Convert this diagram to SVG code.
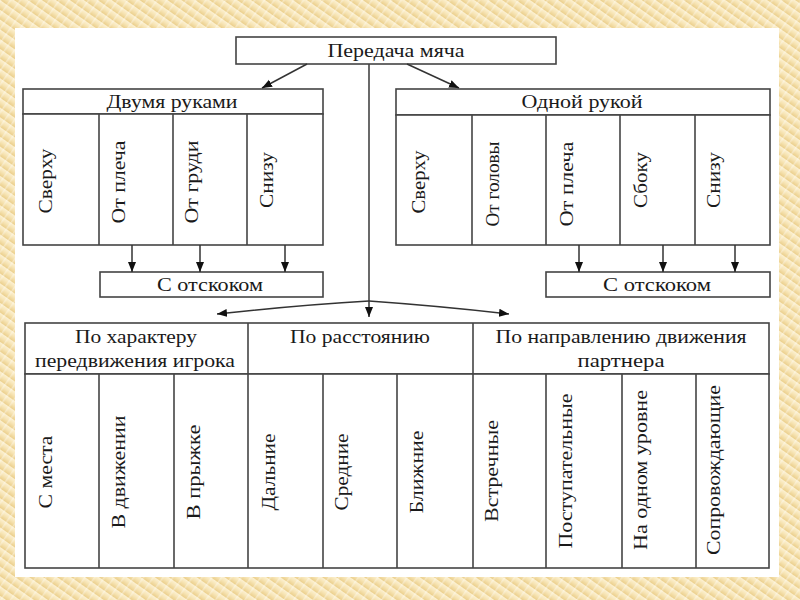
<svg xmlns="http://www.w3.org/2000/svg" width="800" height="600" viewBox="0 0 800 600">
<defs>
<linearGradient id="bg" x1="0" y1="0" x2="0" y2="1">
<stop offset="0" stop-color="#fcf1d4"/>
<stop offset="0.5" stop-color="#f6e3b2"/>
<stop offset="1" stop-color="#ebcf8c"/>
</linearGradient>
<pattern id="stripes" width="8" height="8" patternUnits="userSpaceOnUse" patternTransform="rotate(35)">
<rect width="8" height="8" fill="url(#bg)"/>
<line x1="0" y1="0" x2="0" y2="8" stroke="#ffffff" stroke-opacity="0.35" stroke-width="3"/>
</pattern>
<marker id="ah" markerUnits="userSpaceOnUse" markerWidth="10" markerHeight="10" viewBox="0 0 10 10" refX="10" refY="5" orient="auto">
<path d="M0,1 L10,5 L0,9 Z" fill="#111"/>
</marker>
<style>
.box{fill:#ffffff;stroke:#444;stroke-width:1.6}
.ln{fill:none;stroke:#444;stroke-width:1.6}
.t{font-size:19px;fill:#1a1a1a;text-anchor:middle}
.v{font-size:19px;fill:#1a1a1a;text-anchor:middle;dominant-baseline:middle}
.con{fill:none;stroke:#333;stroke-width:1.5;marker-end:url(#ah)}
</style>
</defs>
<rect x="0" y="0" width="800" height="600" fill="url(#stripes)"/>
<rect x="15" y="28" width="764" height="549" fill="#ffffff"/>

<g font-family="'Liberation Serif', 'DejaVu Serif', serif">
<g id="root">
<rect class="box" x="236" y="37" width="320" height="27"/>
<text class="t" x="396" y="57" textLength="137" lengthAdjust="spacingAndGlyphs">Передача мяча</text>
</g>

<g id="two-hands">
<rect class="box" x="23" y="89" width="300" height="25"/>
<text class="t" x="172" y="108" textLength="131" lengthAdjust="spacingAndGlyphs">Двумя руками</text>
<rect class="box" x="23" y="114" width="300" height="131"/>
<line class="ln" x1="99" y1="114" x2="99" y2="245"/>
<line class="ln" x1="173" y1="114" x2="173" y2="245"/>
<line class="ln" x1="247" y1="114" x2="247" y2="245"/>
<text class="v" transform="translate(48,181) rotate(-90)" textLength="65" lengthAdjust="spacingAndGlyphs">Сверху</text>
<text class="v" transform="translate(121,182) rotate(-90)" textLength="83" lengthAdjust="spacingAndGlyphs">От плеча</text>
<text class="v" transform="translate(194,182) rotate(-90)" textLength="83" lengthAdjust="spacingAndGlyphs">От груди</text>
<text class="v" transform="translate(269,180) rotate(-90)" textLength="56" lengthAdjust="spacingAndGlyphs">Снизу</text>
</g>

<g id="bounce-left">
<rect class="box" x="100" y="272" width="223" height="25"/>
<text class="t" x="210" y="291" textLength="106" lengthAdjust="spacingAndGlyphs">С отскоком</text>
</g>

<g id="one-hand">
<rect class="box" x="396" y="89" width="374" height="26"/>
<text class="t" x="582" y="108" textLength="121" lengthAdjust="spacingAndGlyphs">Одной рукой</text>
<rect class="box" x="396" y="115" width="374" height="130"/>
<line class="ln" x1="472" y1="115" x2="472" y2="245"/>
<line class="ln" x1="546" y1="115" x2="546" y2="245"/>
<line class="ln" x1="620" y1="115" x2="620" y2="245"/>
<line class="ln" x1="695" y1="115" x2="695" y2="245"/>
<text class="v" transform="translate(421,182) rotate(-90)" textLength="63" lengthAdjust="spacingAndGlyphs">Сверху</text>
<text class="v" transform="translate(495,184) rotate(-90)" textLength="85" lengthAdjust="spacingAndGlyphs">От головы</text>
<text class="v" transform="translate(569,184) rotate(-90)" textLength="85" lengthAdjust="spacingAndGlyphs">От плеча</text>
<text class="v" transform="translate(643,180) rotate(-90)" textLength="56" lengthAdjust="spacingAndGlyphs">Сбоку</text>
<text class="v" transform="translate(716,180) rotate(-90)" textLength="56" lengthAdjust="spacingAndGlyphs">Снизу</text>
</g>

<g id="bounce-right">
<rect class="box" x="546" y="272" width="224" height="25"/>
<text class="t" x="657" y="291" textLength="108" lengthAdjust="spacingAndGlyphs">С отскоком</text>
</g>

<g id="bottom-table">
<rect class="box" x="25" y="323" width="744" height="51"/>
<line class="ln" x1="248" y1="323" x2="248" y2="374"/>
<line class="ln" x1="473" y1="323" x2="473" y2="374"/>
<text class="t" x="136" y="343" textLength="122" lengthAdjust="spacingAndGlyphs">По характеру</text>
<text class="t" x="135" y="367" textLength="200" lengthAdjust="spacingAndGlyphs">передвижения игрока</text>
<text class="t" x="360" y="343" textLength="140" lengthAdjust="spacingAndGlyphs">По расстоянию</text>
<text class="t" x="621" y="343" textLength="251" lengthAdjust="spacingAndGlyphs">По направлению движения</text>
<text class="t" x="621" y="367" textLength="87" lengthAdjust="spacingAndGlyphs">партнера</text>
<rect class="box" x="25" y="374" width="744" height="194"/>
<line class="ln" x1="99" y1="374" x2="99" y2="568"/>
<line class="ln" x1="174" y1="374" x2="174" y2="568"/>
<line class="ln" x1="248" y1="374" x2="248" y2="568"/>
<line class="ln" x1="323" y1="374" x2="323" y2="568"/>
<line class="ln" x1="397" y1="374" x2="397" y2="568"/>
<line class="ln" x1="473" y1="374" x2="473" y2="568"/>
<line class="ln" x1="546" y1="374" x2="546" y2="568"/>
<line class="ln" x1="622" y1="374" x2="622" y2="568"/>
<line class="ln" x1="696" y1="374" x2="696" y2="568"/>
<text class="v" transform="translate(48,472) rotate(-90)" textLength="73" lengthAdjust="spacingAndGlyphs">С места</text>
<text class="v" transform="translate(121,472) rotate(-90)" textLength="113" lengthAdjust="spacingAndGlyphs">В движении</text>
<text class="v" transform="translate(196,472) rotate(-90)" textLength="95" lengthAdjust="spacingAndGlyphs">В прыжке</text>
<text class="v" transform="translate(271,472) rotate(-90)" textLength="77" lengthAdjust="spacingAndGlyphs">Дальние</text>
<text class="v" transform="translate(344,472) rotate(-90)" textLength="77" lengthAdjust="spacingAndGlyphs">Средние</text>
<text class="v" transform="translate(419,472) rotate(-90)" textLength="83" lengthAdjust="spacingAndGlyphs">Ближние</text>
<text class="v" transform="translate(494,471) rotate(-90)" textLength="102" lengthAdjust="spacingAndGlyphs">Встречные</text>
<text class="v" transform="translate(568,471) rotate(-90)" textLength="155" lengthAdjust="spacingAndGlyphs">Поступательные</text>
<text class="v" transform="translate(643,470) rotate(-90)" textLength="160" lengthAdjust="spacingAndGlyphs">На одном уровне</text>
<text class="v" transform="translate(716,470) rotate(-90)" textLength="170" lengthAdjust="spacingAndGlyphs">Сопровождающие</text>
</g>
</g>

<g id="connectors">
<line class="con" x1="307" y1="64" x2="262" y2="88"/>
<line class="con" x1="407" y1="64" x2="459" y2="88"/>
<line class="ln" x1="369" y1="64" x2="369" y2="301"/>
<path class="con" d="M369,301 Q300,305 217,314"/>
<line class="con" x1="369" y1="301" x2="369" y2="317"/>
<path class="con" d="M369,301 Q440,306 509,314"/>
<line class="con" x1="132" y1="245" x2="132" y2="272"/>
<line class="con" x1="200" y1="245" x2="200" y2="272"/>
<line class="con" x1="285" y1="245" x2="285" y2="272"/>
<line class="con" x1="579" y1="245" x2="579" y2="272"/>
<line class="con" x1="663" y1="245" x2="663" y2="272"/>
<line class="con" x1="735" y1="245" x2="735" y2="272"/>
</g>
</svg>
